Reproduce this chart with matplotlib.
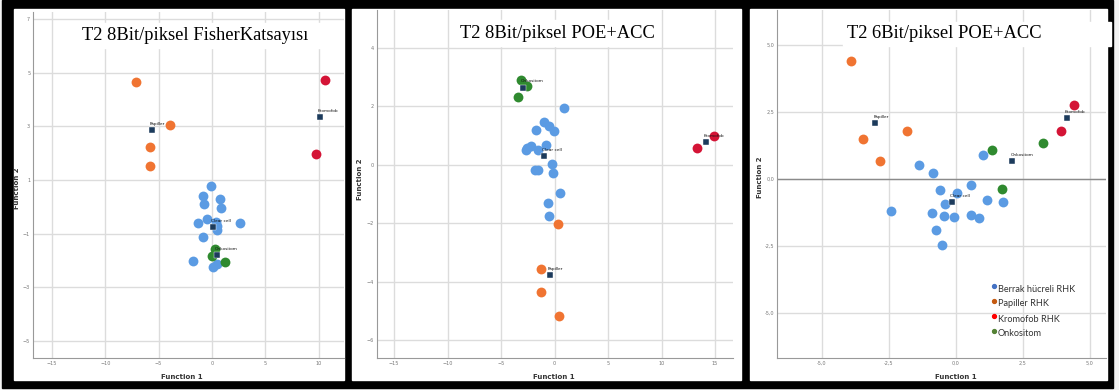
import matplotlib
matplotlib.use("Agg")
import matplotlib.pyplot as plt
from matplotlib.patches import Rectangle

W, H = 1119, 390

# ---- panel 1: T2 8Bit/piksel FisherKatsayısı ----
p1_clear_x = [-0.12, -0.84, -0.72, 0.72, 0.87, -1.34, -0.47, 0.40, 0.50, 0.45, 2.59, -0.81, -1.78, 0.12, 0.47]
p1_clear_y = [0.78, 0.40, 0.09, 0.28, -0.04, -0.61, -0.47, -0.55, -0.86, -0.72, -0.61, -1.12, -2.02, -2.23, -2.13]
p1_pap_x = [-7.07, -3.90, -5.83, -5.83]
p1_pap_y = [4.66, 3.04, 2.22, 1.53]
p1_krom_x = [10.56, 9.72]
p1_krom_y = [4.73, 1.97]
p1_onk_x = [0.25, 0.00, 1.21]
p1_onk_y = [-1.58, -1.83, -2.06]
p1_cent_x = [0.09, -5.64, 10.12, 0.47]
p1_cent_y = [-0.74, 2.86, 3.35, -1.81]

# ---- panel 2: T2 8Bit/piksel POE+ACC ----
p2_clear_x = [0.90, -1.00, -0.50, -0.03, -1.74, -0.84, -2.24, -2.55, -2.71, -1.56, -0.22, -0.12, -1.81, -1.56, 0.50, -0.62, -0.50]
p2_clear_y = [1.96, 1.45, 1.31, 1.15, 1.20, 0.68, 0.64, 0.57, 0.49, 0.50, 0.02, -0.27, -0.19, -0.17, -0.97, -1.31, -1.77]
p2_pap_x = [0.37, -1.25, -1.28, 0.44]
p2_pap_y = [-2.03, -3.57, -4.36, -5.19]
p2_krom_x = [14.92, 13.27]
p2_krom_y = [1.00, 0.58]
p2_onk_x = [-3.12, -2.55, -3.40]
p2_onk_y = [2.91, 2.68, 2.32]
p2_cent_x = [-0.97, -0.44, 14.14, -2.99]
p2_cent_y = [0.31, -3.79, 0.79, 2.64]

# ---- panel 3: T2 6Bit/piksel POE+ACC ----
p3_clear_x = [1.00, -1.39, -0.85, 0.57, -0.60, 0.05, -0.40, 1.16, 1.74, -2.44, -0.90, -0.45, -0.06, 0.57, 0.87, -0.73, -0.51]
p3_clear_y = [0.88, 0.52, 0.21, -0.22, -0.40, -0.52, -0.95, -0.78, -0.85, -1.18, -1.27, -1.37, -1.42, -1.33, -1.47, -1.92, -2.46]
p3_pap_x = [-3.91, -3.46, -2.84, -1.84]
p3_pap_y = [4.42, 1.49, 0.67, 1.78]
p3_krom_x = [4.39, 3.92]
p3_krom_y = [2.75, 1.79]
p3_onk_x = [1.36, 3.26, 1.72]
p3_onk_y = [1.09, 1.33, -0.39]
p3_cent_x = [-0.14, -3.01, 4.14, 2.11]
p3_cent_y = [-0.85, 2.09, 2.28, 0.67]

cent_names = ["Clear cell", "Papiller", "Kromofob", "Onkositom"]
legend_labels = ["Berrak hücreli RHK", "Papiller RHK", "Kromofob RHK", "Onkositom"]
legend_colors = ["#4472C4", "#C55A11", "#FF0000", "#548235"]

p1_xticks = [-15, -10, -5, 0, 5, 10]
p1_yticks = [7, 5, 3, 1, -1, -3, -5]
p2_xticks = [-15, -10, -5, 0, 5, 10, 15]
p2_yticks = [4, 2, 0, -2, -4, -6]
p3_ticks = [-5.0, -2.5, 0.0, 2.5, 5.0]
p3_ticklabels = ["-5,0", "-2,5", "0,0", "2,5", "5,0"]

c_blue, c_orange, c_red, c_green = "#5B9BE3", "#F07432", "#D41436", "#2F8A2F"
c_cent = "#1C3B5C"


def fx(px):
    return px / W


def fy(py):
    return 1 - py / H


fig = plt.figure(figsize=(W / 100, H / 100), dpi=100)
fig.patch.set_facecolor("#f2f2f2")

# black frames and white panel interiors (behind the axes)
fig.patches.append(Rectangle((fx(2), fy(388)), (1113 - 2) / W, 388 / H,
                             transform=fig.transFigure, color="black", zorder=-3))
for l, r in [(14, 344), (352, 741), (750, 1107)]:
    fig.patches.append(Rectangle((fx(l), fy(380)), (r - l) / W, (380 - 9) / H,
                                 transform=fig.transFigure, color="white", zorder=-2))


def make_ax(l, r, t, b):
    ax = fig.add_axes([fx(l), fy(b), (r - l) / W, (b - t) / H])
    ax.set_zorder(1)
    ax.set_facecolor("white")
    for s in ["top", "right"]:
        ax.spines[s].set_visible(False)
    for s in ["left", "bottom"]:
        ax.spines[s].set_color("#999999")
        ax.spines[s].set_linewidth(0.8)
    ax.grid(True, color="#dcdcdc", linewidth=1.0)
    ax.set_axisbelow(True)
    ax.tick_params(length=0, labelsize=3.5, labelcolor="#777777", pad=2)
    return ax


def draw_groups(ax, clear, pap, krom, onk, cent):
    ax.scatter(clear[0], clear[1], s=50, color=c_blue, linewidths=0, zorder=3)
    ax.scatter(pap[0], pap[1], s=50, color=c_orange, linewidths=0, zorder=3)
    ax.scatter(krom[0], krom[1], s=50, color=c_red, linewidths=0, zorder=3)
    ax.scatter(onk[0], onk[1], s=50, color=c_green, linewidths=0, zorder=3)
    ax.scatter(cent[0], cent[1], s=14, marker="s", color=c_cent, linewidths=0.3,
               edgecolors="white", zorder=4)
    for name, x, y in zip(cent_names, cent[0], cent[1]):
        ax.annotate(name, (x, y), xytext=(-1.5, 3), textcoords="offset points",
                    fontsize=3.1, ha="left", va="bottom", color="#111111", zorder=5)


# panel 1
ax1 = make_ax(33, 344, 12, 358)
draw_groups(ax1, (p1_clear_x, p1_clear_y), (p1_pap_x, p1_pap_y), (p1_krom_x, p1_krom_y),
            (p1_onk_x, p1_onk_y), (p1_cent_x, p1_cent_y))
ax1.set_xlim(-16.76, 12.36)
ax1.set_ylim(-5.63, 7.26)
ax1.set_xticks(p1_xticks)
ax1.set_yticks(p1_yticks)

# panel 2
ax2 = make_ax(377, 733, 10, 358)
draw_groups(ax2, (p2_clear_x, p2_clear_y), (p2_pap_x, p2_pap_y), (p2_krom_x, p2_krom_y),
            (p2_onk_x, p2_onk_y), (p2_cent_x, p2_cent_y))
ax2.set_xlim(-16.59, 16.68)
ax2.set_ylim(-6.62, 5.30)
ax2.set_xticks(p2_xticks)
ax2.set_yticks(p2_yticks)

# panel 3
ax3 = make_ax(777, 1106, 10, 358)
ax3.axhline(0, color="#8a8a8a", linewidth=1.0, zorder=2)
draw_groups(ax3, (p3_clear_x, p3_clear_y), (p3_pap_x, p3_pap_y), (p3_krom_x, p3_krom_y),
            (p3_onk_x, p3_onk_y), (p3_cent_x, p3_cent_y))
ax3.set_xlim(-6.68, 5.60)
ax3.set_ylim(-6.68, 6.31)
ax3.set_xticks(p3_ticks, p3_ticklabels)
ax3.set_yticks(p3_ticks, p3_ticklabels)

# axis titles
for x in [182, 554, 956]:
    fig.text(fx(x), fy(377), "Function 1", fontsize=5, fontweight="bold",
             color="#333333", ha="center", va="center")
for x, y in [(17, 188), (360, 179), (760, 177)]:
    fig.text(fx(x), fy(y), "Function 2", fontsize=5, fontweight="bold",
             color="#333333", ha="center", va="center", rotation=90)

# title boxes
for l, r, t, b in [(72, 343, 23, 48), (455, 660, 20, 46), (843, 1111, 22, 46)]:
    fig.patches.append(Rectangle((fx(l), fy(b)), (r - l) / W, (b - t) / H,
                                 transform=fig.transFigure, color="white", zorder=5))
titles = ["T2 8Bit/piksel FisherKatsayısı", "T2 8Bit/piksel POE+ACC", "T2 6Bit/piksel POE+ACC"]
for title, x, y in zip(titles, [195, 557, 944], [35, 33, 33]):
    fig.text(fx(x), fy(y), title, family="Liberation Serif", fontsize=13.3,
             ha="center", va="center", color="black", zorder=6)

# legend
for i, (lab, col) in enumerate(zip(legend_labels, legend_colors)):
    y = 289 + i * 15
    fig.lines.append(plt.Line2D([fx(994)], [fy(y - 3)], marker="o", markersize=2.8,
                                color=col, linestyle="none", transform=fig.transFigure,
                                zorder=6))
    fig.text(fx(998), fy(y), lab, family="Lato", fontsize=6.6, color="#333333",
             ha="left", va="center", zorder=6)

fig.savefig("out.png", dpi=100)
